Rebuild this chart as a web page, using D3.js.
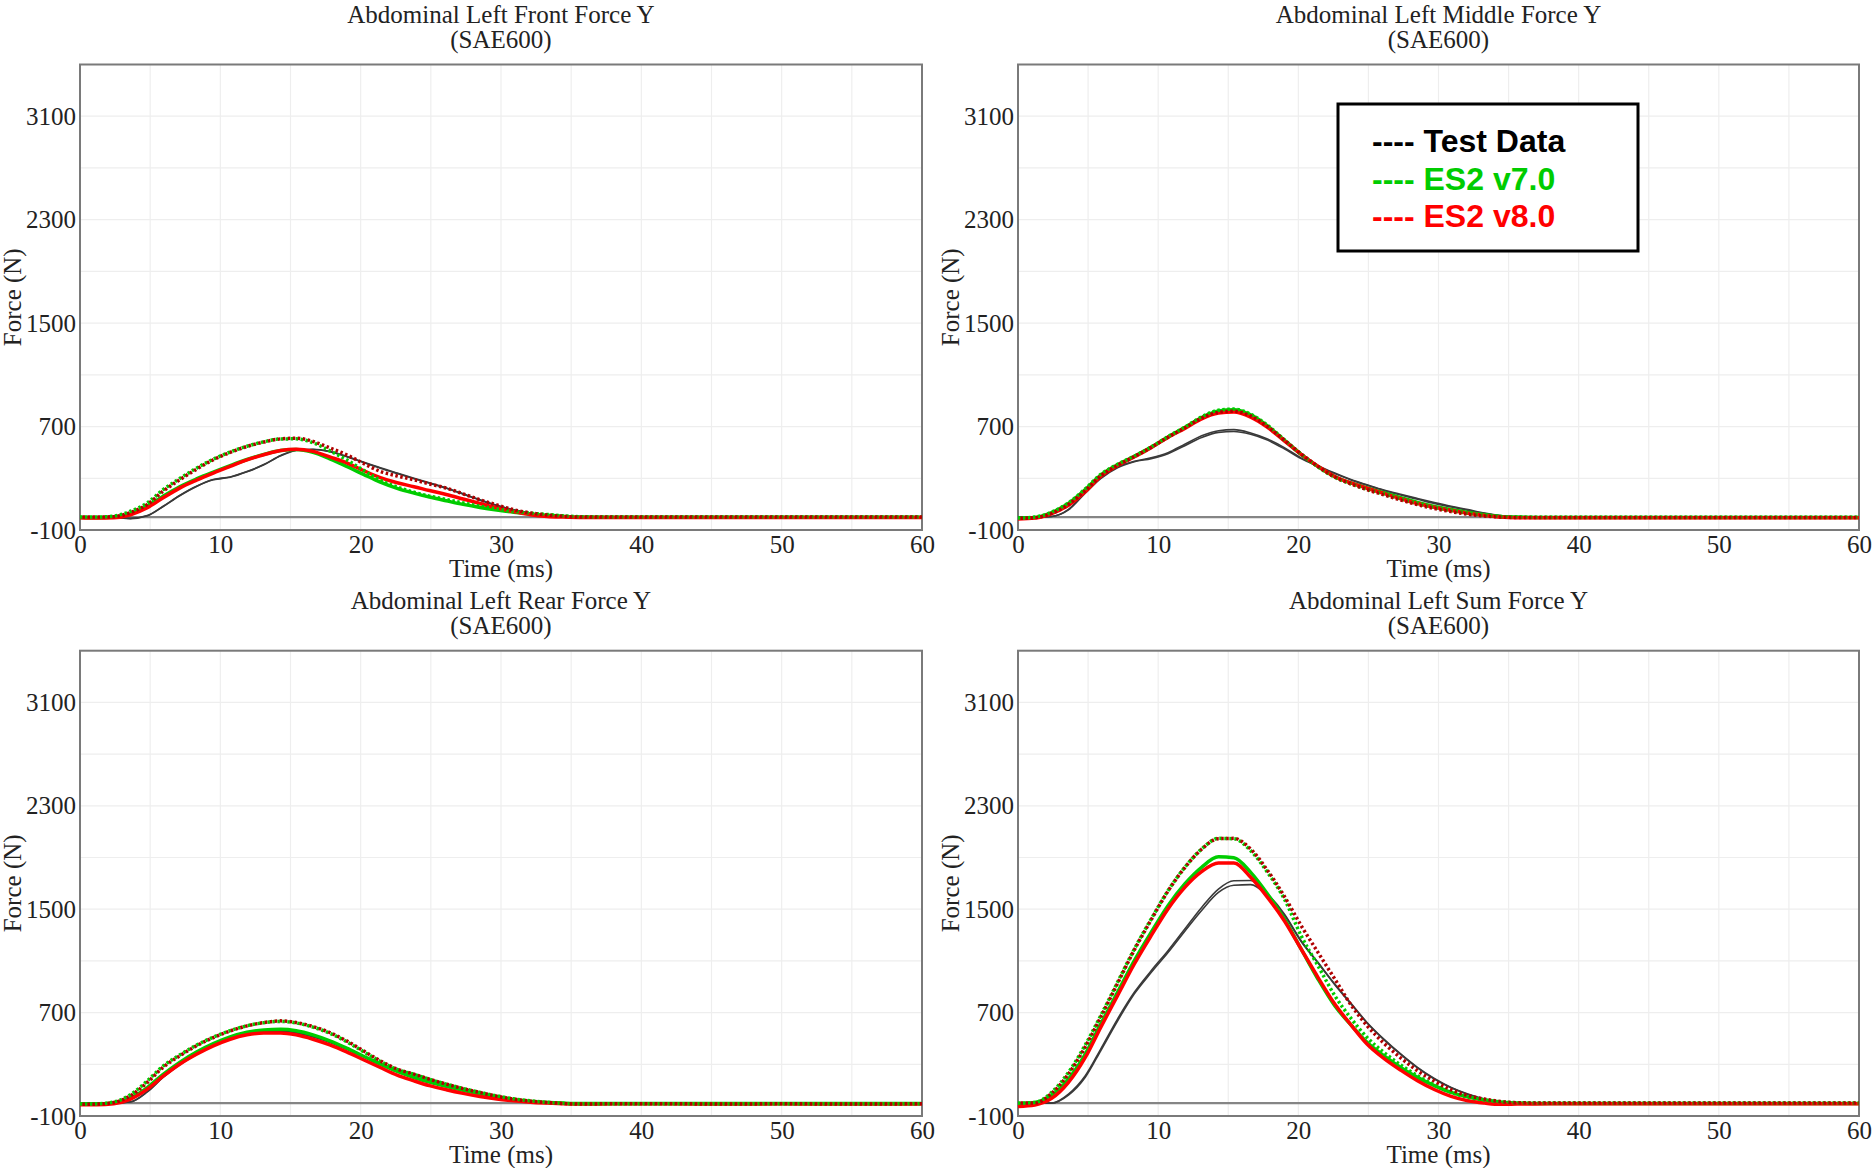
<!DOCTYPE html>
<html>
<head>
<meta charset="utf-8">
<script src="https://cdn.jsdelivr.net/npm/d3@7/dist/d3.min.js"></script>
<style>
  html, body { margin: 0; padding: 0; background: #fff; }
  svg { display: block; }
</style>
</head>
<body>
<svg id="chart" width="1872" height="1168"></svg>
<script>
// ---------------- DATA ----------------
const titles = ["Abdominal Left Front Force Y", "Abdominal Left Middle Force Y",
                "Abdominal Left Rear Force Y", "Abdominal Left Sum Force Y"];
const subtitle = "(SAE600)";
const xLabel = "Time (ms)";
const yLabel = "Force (N)";
const xTicks = [0, 10, 20, 30, 40, 50, 60];
const yTicks = [-100, 700, 1500, 2300, 3100];
const legendLabels = ["---- Test Data", "---- ES2 v7.0", "---- ES2 v8.0"];

const time = [0, 1.2, 2.4, 3.6, 4.8, 5.9, 7.1, 8.3, 9.5, 10.7, 11.9, 13.1, 14.3, 15.4, 16.6, 17.8, 19, 20.2,
              21.4, 22.6, 23.8, 24.9, 26.1, 27.3, 28.5, 29.7, 30.9, 32.1, 33.3, 34.4, 35.6, 38, 42, 46, 50, 55, 60];

// Front
const frontTest1   = [0, 0, -3, -12, 10, 80, 165, 237, 288, 308, 350, 404, 474, 515, 525, 508, 470, 425, 381, 340, 300, 265, 225, 180, 134, 92, 57, 32, 14, 4, 0, 0, 0, 0, 0, 0, 0];
const frontTest2   = [0, 0, -3, -10, 12, 82, 167, 238, 290, 310, 352, 406, 476, 517, 523, 505, 467, 422, 378, 337, 297, 262, 222, 177, 131, 89, 55, 30, 12, 3, 0, 0, 0, 0, 0, 0, 0];
const frontV7Solid = [-3, -5, 0, 25, 85, 160, 235, 295, 348, 398, 445, 485, 515, 522, 500, 450, 392, 330, 270, 222, 185, 155, 126, 98, 74, 54, 37, 24, 14, 6, 0, -2, -2, -2, -2, -2, -2];
const frontV7Dot   = [0, 0, 8, 45, 110, 210, 298, 378, 448, 503, 548, 582, 604, 605, 575, 512, 443, 362, 285, 232, 192, 162, 136, 110, 84, 63, 45, 30, 20, 10, 3, 0, 0, 0, 0, 0, 0];
const frontV8Solid = [-5, -8, -5, 18, 72, 147, 224, 285, 340, 392, 443, 482, 515, 525, 508, 465, 420, 360, 305, 265, 235, 205, 175, 140, 105, 72, 42, 18, 5, 0, -3, -3, -3, -3, -3, -3, -3];
const frontV8Dot   = [0, 0, 3, 35, 98, 198, 288, 370, 443, 500, 546, 580, 605, 610, 585, 535, 482, 415, 353, 318, 288, 256, 224, 180, 134, 94, 57, 32, 16, 6, 0, 0, 0, 0, 0, 0, 0];

// Middle
const midTest1   = [0, 0, 5, 60, 195, 305, 388, 432, 458, 498, 563, 629, 668, 676, 650, 603, 537, 458, 398, 340, 288, 250, 210, 176, 144, 113, 84, 58, 31, 12, 0, 0, 0, 0, 0, 0, 0];
const midTest2   = [0, 0, 4, 55, 185, 298, 382, 428, 452, 490, 552, 615, 655, 662, 640, 595, 528, 452, 392, 336, 285, 246, 206, 170, 138, 106, 78, 52, 27, 10, 0, 0, 0, 0, 0, 0, 0];
const midV7Solid = [-10, -3, 35, 105, 212, 325, 405, 470, 540, 620, 692, 770, 820, 830, 790, 705, 595, 485, 390, 312, 262, 225, 188, 150, 113, 82, 58, 36, 18, 5, 0, -3, -3, -3, -3, -3, -3];
const midV7Dot   = [-8, 0, 38, 110, 218, 330, 408, 472, 542, 622, 696, 775, 826, 835, 795, 710, 598, 486, 388, 308, 255, 215, 178, 140, 104, 74, 50, 30, 14, 4, 0, -2, -2, -2, -2, -2, -2];
const midV8Solid = [-15, -8, 26, 92, 197, 314, 398, 466, 537, 616, 686, 760, 804, 812, 773, 694, 590, 485, 393, 314, 262, 223, 183, 142, 105, 76, 52, 30, 13, 0, -5, -5, -5, -6, -5, -6, -5];
const midV8Dot   = [-10, -5, 28, 98, 205, 318, 400, 468, 540, 618, 690, 765, 810, 818, 782, 700, 595, 488, 392, 310, 255, 212, 172, 132, 96, 66, 42, 22, 8, 0, -3, -3, -3, -3, -3, -3, -3];

// Rear
const rearTest1   = [0, 0, 0, 10, 90, 200, 300, 380, 445, 497, 533, 552, 556, 545, 515, 472, 420, 362, 305, 260, 224, 186, 147, 112, 82, 55, 31, 14, 4, 0, 0, 0, 0, 0, 0, 0, 0];
const rearTest2   = [0, 0, 0, 8, 86, 196, 296, 376, 441, 493, 530, 549, 553, 542, 512, 469, 417, 359, 302, 257, 221, 183, 144, 109, 79, 52, 29, 12, 3, 0, 0, 0, 0, 0, 0, 0, 0];
const rearV7Solid = [-8, -8, 0, 40, 120, 220, 315, 395, 460, 512, 548, 566, 571, 560, 528, 482, 425, 362, 301, 245, 198, 162, 129, 98, 70, 46, 26, 13, 5, 0, -3, -3, -3, -3, -3, -3, -3];
const rearV7Dot   = [-8, -6, 8, 65, 172, 285, 372, 448, 510, 560, 598, 622, 632, 620, 588, 540, 475, 398, 322, 260, 222, 184, 147, 113, 83, 56, 33, 17, 6, -2, -6, -5, -5, -6, -5, -6, -5];
const rearV8Solid = [-12, -12, -5, 31, 108, 206, 301, 378, 443, 494, 528, 543, 543, 528, 494, 450, 396, 335, 275, 216, 172, 135, 103, 75, 51, 32, 18, 7, 0, -5, -8, -6, -6, -8, -6, -8, -6];
const rearV8Dot   = [-10, -8, 5, 57, 160, 275, 365, 443, 507, 558, 597, 623, 636, 623, 592, 546, 481, 404, 327, 263, 224, 185, 147, 112, 82, 54, 31, 15, 5, -3, -8, -5, -5, -8, -5, -8, -5];

// Sum
const sumTest1   = [0, 0, 0, 70, 212, 418, 650, 857, 1024, 1179, 1347, 1514, 1656, 1720, 1722, 1618, 1463, 1256, 1089, 921, 766, 624, 495, 380, 276, 190, 121, 70, 31, 10, 0, 0, 0, 0, 0, 0, 0];
const sumTest2   = [0, 0, 0, 62, 200, 405, 635, 845, 1010, 1165, 1330, 1490, 1630, 1685, 1690, 1605, 1455, 1250, 1083, 916, 761, 620, 491, 376, 272, 186, 118, 67, 29, 9, 0, 0, 0, 0, 0, 0, 0];
const sumV7Solid = [-5, 5, 57, 186, 379, 611, 857, 1102, 1321, 1527, 1695, 1824, 1905, 1898, 1785, 1618, 1424, 1192, 960, 753, 599, 470, 366, 275, 199, 135, 83, 48, 23, 8, 0, -3, -3, -3, -3, -3, -3];
const sumV7Dot   = [0, 5, 83, 237, 450, 676, 934, 1192, 1424, 1643, 1824, 1966, 2048, 2045, 1953, 1785, 1579, 1295, 1063, 831, 650, 508, 392, 295, 212, 140, 83, 45, 23, 10, 3, 0, 0, 0, 0, 0, 0];
const sumV8Solid = [-26, -15, 36, 160, 353, 586, 831, 1076, 1295, 1502, 1669, 1791, 1858, 1858, 1747, 1592, 1411, 1192, 973, 766, 599, 457, 346, 255, 173, 105, 52, 18, 0, -10, -8, -5, -6, -5, -6, -5, -6];
const sumV8Dot   = [0, 0, 75, 225, 435, 665, 925, 1185, 1418, 1640, 1822, 1964, 2046, 2048, 1965, 1800, 1600, 1373, 1166, 960, 753, 599, 464, 350, 250, 170, 103, 58, 31, 12, 3, 0, 0, 0, 0, 0, 0];

// ---------------- LAYOUT ----------------
const panels = [
  { title: titles[0], test: [frontTest1, frontTest2], v7: frontV7Solid, v7d: frontV7Dot, v8: frontV8Solid, v8d: frontV8Dot, x0: 80,   x1: 922,  y0: 64.5,  y1: 530 },
  { title: titles[1], test: [midTest1, midTest2],     v7: midV7Solid,   v7d: midV7Dot,   v8: midV8Solid,   v8d: midV8Dot,   x0: 1018, x1: 1859, y0: 64.5,  y1: 530, legend: true },
  { title: titles[2], test: [rearTest1, rearTest2],   v7: rearV7Solid,  v7d: rearV7Dot,  v8: rearV8Solid,  v8d: rearV8Dot,  x0: 80,   x1: 922,  y0: 650.7, y1: 1116 },
  { title: titles[3], test: [sumTest1, sumTest2],     v7: sumV7Solid,   v7d: sumV7Dot,   v8: sumV8Solid,   v8d: sumV8Dot,   x0: 1018, x1: 1859, y0: 650.7, y1: 1116 }
];

const GREEN = "#00cc00", RED = "#ff0000";
const FONT = "'Liberation Serif', 'Times New Roman', serif";
const svg = d3.select("#chart");

panels.forEach(p => {
  const x = d3.scaleLinear().domain([0, 60]).range([p.x0, p.x1]);
  const y = d3.scaleLinear().domain([-100, 3500]).range([p.y1, p.y0]);
  const g = svg.append("g");
  const cx = (p.x0 + p.x1) / 2;

  // titles
  g.append("text").attr("x", cx).attr("y", p.y0 - 42).attr("text-anchor", "middle")
    .attr("font-family", FONT).attr("font-size", 25).attr("fill", "#222").text(p.title);
  g.append("text").attr("x", cx).attr("y", p.y0 - 17).attr("text-anchor", "middle")
    .attr("font-family", FONT).attr("font-size", 25).attr("fill", "#222").text(subtitle);

  // grid
  const gx = d3.range(5, 60, 5);
  const gy = d3.range(-100, 3501, 400);
  g.selectAll(".gx").data(gx).enter().append("line")
    .attr("x1", d => x(d)).attr("x2", d => x(d)).attr("y1", p.y0).attr("y2", p.y1)
    .attr("stroke", "#eeeeee").attr("stroke-width", 1.2);
  g.selectAll(".gy").data(gy).enter().append("line")
    .attr("x1", p.x0).attr("x2", p.x1).attr("y1", d => y(d)).attr("y2", d => y(d))
    .attr("stroke", "#eeeeee").attr("stroke-width", 1.2);

  // zero line
  g.append("line").attr("x1", x(0)).attr("x2", x(60)).attr("y1", y(0)).attr("y2", y(0))
    .attr("stroke", "#858585").attr("stroke-width", 2.2);

  // frame
  g.append("rect").attr("x", p.x0).attr("y", p.y0).attr("width", p.x1 - p.x0).attr("height", p.y1 - p.y0)
    .attr("fill", "none").attr("stroke", "#7a7a7a").attr("stroke-width", 2);

  // axes
  const ax = g.append("g").attr("transform", `translate(0,${p.y1})`)
    .call(d3.axisBottom(x).tickValues(xTicks).tickSize(0).tickPadding(5).tickFormat(d => String(d)));
  ax.select(".domain").remove();
  ax.selectAll("text").attr("font-family", FONT).attr("font-size", 25).attr("fill", "#222");

  const ay = g.append("g").attr("transform", `translate(${p.x0},0)`)
    .call(d3.axisLeft(y).tickValues(yTicks).tickSize(0).tickPadding(4).tickFormat(d => String(d)));
  ay.select(".domain").remove();
  ay.selectAll("text").attr("font-family", FONT).attr("font-size", 25).attr("fill", "#222");

  g.append("text").attr("x", cx).attr("y", p.y1 + 47).attr("text-anchor", "middle")
    .attr("font-family", FONT).attr("font-size", 25).attr("fill", "#222").text(xLabel);
  g.append("text").attr("transform", `translate(${p.x0 - 59},${(p.y0 + p.y1) / 2}) rotate(-90)`)
    .attr("text-anchor", "middle").attr("font-family", FONT).attr("font-size", 25).attr("fill", "#222").text(yLabel);

  // curves
  const line = d3.line().x((d, i) => x(time[i])).y(d => y(d)).curve(d3.curveMonotoneX);
  const cg = g.append("g");
  p.test.forEach(s => cg.append("path").attr("d", line(s)).attr("fill", "none")
    .attr("stroke", "#3a3a3a").attr("stroke-width", 1.6));
  cg.append("path").attr("d", line(p.v7)).attr("fill", "none").attr("stroke", GREEN).attr("stroke-width", 3.5);
  cg.append("path").attr("d", line(p.v8)).attr("fill", "none").attr("stroke", RED).attr("stroke-width", 3.5);
  cg.append("path").attr("d", line(p.v7d)).attr("fill", "none").attr("stroke", GREEN).attr("stroke-width", 3.5)
    .attr("stroke-dasharray", "2.5,2.5");
  cg.append("path").attr("d", line(p.v8d)).attr("fill", "none").attr("stroke", "#b00000").attr("stroke-width", 3.5)
    .attr("stroke-dasharray", "2.5,2.5").attr("stroke-dashoffset", 2.5);

  if (p.legend) {
    const lg = g.append("g");
    lg.append("rect").attr("x", 1338).attr("y", 104).attr("width", 300).attr("height", 147)
      .attr("fill", "#fff").attr("stroke", "#000").attr("stroke-width", 3);
    const cols = ["#000", GREEN, RED];
    legendLabels.forEach((t, i) => {
      lg.append("text").attr("x", 1372).attr("y", 152 + i * 37.5)
        .attr("font-family", "'Liberation Sans', Arial, sans-serif").attr("font-weight", "bold")
        .attr("font-size", 32).attr("fill", cols[i]).text(t);
    });
  }
});
</script>
</body>
</html>
